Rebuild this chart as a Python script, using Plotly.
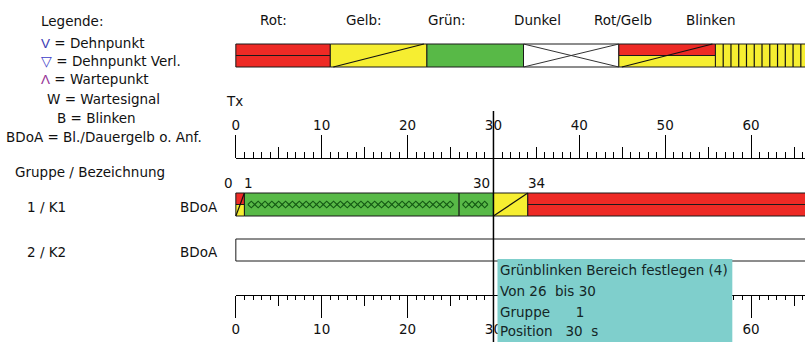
import numpy as np
import plotly.graph_objects as go

# ------------------------------------------------------------------ data
LEGEND_LABELS = ["Rot:", "Gelb:", "Grün:", "Dunkel", "Rot/Gelb", "Blinken"]
LEGEND_KINDS = ["rot", "gelb", "gruen", "dunkel", "rotgelb", "blinken"]
LEGEND_EDGES = [0, 11.0, 22.25, 33.5, 44.6, 55.85, 67.5]
LEGEND_LABEL_AT = [4.4, 14.95, 24.55, 35.1, 45.1, 55.3]

LEGEND_SYMBOLS = ["V", "▽", "Λ", "", "", ""]
LEGEND_SYMBOL_COLORS = ["#3C3CB4", "#3C3CC8", "#963296", "", "", ""]
LEGEND_ENTRIES = ["= Dehnpunkt", "= Dehnpunkt Verl.", "= Wartepunkt",
                  "W = Wartesignal", "B = Blinken", "BDoA = Bl./Dauergelb o. Anf."]

ROW_NAMES = ["1 / K1", "2 / K2"]
ROW_TYPES = ["BDoA", "BDoA"]

K1_START = [0, 1, 26, 30, 34]
K1_END = [1, 26, 30, 34, 67.5]
K1_KIND = ["rotgelb", "gruenblink", "gruenblink", "gelb", "rot"]
K1_MARKS = [0, 1, 30, 34]
K1_MARK_SIDE = ["right", "left", "right", "left"]

K2_START = [0]
K2_END = [67.5]
K2_KIND = ["leer"]

RULER_MAJOR = [0, 10, 20, 30, 40, 50, 60]
RULER_MID = [5, 15, 25, 35, 45, 55, 65]
RULER_MINOR_STEP = 1

CURSOR_T = 30
TOOLTIP_LINES = ["Grünblinken Bereich festlegen (4)",
                 "Von 26\u00a0 bis 30",
                 "Gruppe\u00a0\u00a0\u00a0\u00a0\u00a0 1",
                 "Position\u00a0\u00a0 30\u00a0 s"]

# ------------------------------------------------------------------ layout constants
W, H = 805, 342
T0_PX = 233.0
PX_PER_S = 8.63
X_MIN = -T0_PX / PX_PER_S
X_MAX = (W - T0_PX) / PX_PER_S

RED = "#EE2A25"
YELLOW = "#F6EE31"
GREEN = "#58B947"
TEAL = "#7FCFCC"
FONT = "DejaVu Sans"
FS = 13.5
TXT = "#111111"

LEG_BAND = (44, 67)
ROW_BANDS = [(193, 216), (239, 261)]

shapes = []
black_x, black_y = [], []
grey_x, grey_y = [], []
zig_x, zig_y = [], []


def rect(x0, x1, y0, y1, fill):
    shapes.append(dict(type="rect", xref="x", yref="y", x0=x0, x1=x1, y0=y0, y1=y1,
                       fillcolor=fill, line=dict(color="#1a1a1a", width=1), layer="below"))


def seg(xs, ys, x0, y0, x1, y1):
    xs += [x0, x1, None]
    ys += [y0, y1, None]


def draw(kind, x0, x1, y0, y1, inset=0.0):
    ym = (y0 + y1) / 2
    if kind == "rot":
        rect(x0, x1, y0, ym, RED)
        rect(x0, x1, ym, y1, RED)
    elif kind == "gelb":
        rect(x0, x1, y0, y1, YELLOW)
        seg(black_x, black_y, x0 + inset, y1, x1 - inset, y0)
    elif kind == "gruen":
        rect(x0, x1, y0, y1, GREEN)
    elif kind == "dunkel":
        rect(x0, x1, y0, y1, "white")
        seg(grey_x, grey_y, x0, y0, x1, y1)
        seg(grey_x, grey_y, x0, y1, x1, y0)
    elif kind == "rotgelb":
        rect(x0, x1, y0, ym, RED)
        rect(x0, x1, ym, y1, YELLOW)
        seg(black_x, black_y, x0 + inset, y1, x1 - inset, y0)
    elif kind == "blinken":
        rect(x0, x1, y0, y1, YELLOW)
        for t in np.arange(x0 + 0.904, x1, 0.904):
            seg(black_x, black_y, t, y0, t, y1)
    elif kind == "gruenblink":
        rect(x0, x1, y0, y1, GREEN)
        s, e = x0 + 0.4, x1 - 0.65
        n = max(1, int(round((e - s) / 0.8)))
        half = (e - s) / n
        amp = 3.3
        for sign in (1, -1):
            for k in range(n):
                a = s + k * half
                zig_x.extend([a, a + half / 2])
                zig_y.extend([ym, ym + sign * amp * (1 if k % 2 == 0 else -1)])
            zig_x.extend([e, None])
            zig_y.extend([ym, None])
    elif kind == "leer":
        rect(x0, x1, y0, y1, "white")


# legend bar
for k, kind in enumerate(LEGEND_KINDS):
    draw(kind, LEGEND_EDGES[k], LEGEND_EDGES[k + 1], *LEG_BAND, inset=0.35)

# signal rows
for s, e, kind in zip(K1_START, K1_END, K1_KIND):
    draw(kind, s, e, *ROW_BANDS[0])
for s, e, kind in zip(K2_START, K2_END, K2_KIND):
    draw(kind, s, e, *ROW_BANDS[1])

# cursor + tooltip (above everything)
shapes.append(dict(type="line", xref="x", yref="y", x0=CURSOR_T, x1=CURSOR_T, y0=111, y1=H + 5,
                   line=dict(color="black", width=1.5), layer="above"))
tip_x0 = CURSOR_T + 0.47
tip_x1 = tip_x0 + 236 / PX_PER_S
shapes.append(dict(type="rect", xref="x", yref="y", x0=tip_x0, x1=tip_x1, y0=259, y1=H + 10,
                   fillcolor=TEAL, line=dict(width=0), layer="above"))

fig = go.Figure()
fig.add_trace(go.Scatter(x=zig_x, y=zig_y, mode="lines", line=dict(color="#155A15", width=1.1),
                         hoverinfo="skip", showlegend=False))
fig.add_trace(go.Scatter(x=grey_x, y=grey_y, mode="lines", line=dict(color="#333333", width=1),
                         hoverinfo="skip", showlegend=False))
fig.add_trace(go.Scatter(x=black_x, y=black_y, mode="lines", line=dict(color="#111111", width=1.2),
                         hoverinfo="skip", showlegend=False))
for ax in ["x2", "x3", "x4", "x5"]:
    fig.add_trace(go.Scatter(x=[1], y=[-100], xaxis=ax, yaxis="y", mode="markers",
                             marker=dict(size=1, opacity=0), hoverinfo="skip", showlegend=False))

ann = []


def text(t, x, y, xref="paper", anchor="left", size=FS, color=TXT, xshift=0):
    ann.append(dict(text=t, x=x, y=y, xref=xref, yref="y", xanchor=anchor, yanchor="middle",
                    showarrow=False, xshift=xshift, font=dict(family=FONT, size=size, color=color)))


# left legend
text("Legende:", 35 / W, 21)
leg_x = [35, 35, 35, 41, 51, 0]
leg_y = [43, 61, 79, 99, 118, 137]
for sym, col, entry, lx, ly in zip(LEGEND_SYMBOLS, LEGEND_SYMBOL_COLORS, LEGEND_ENTRIES, leg_x, leg_y):
    t = (f"<span style='color:{col};font-family:Liberation Sans'>{sym}</span> " + entry) if sym else entry
    text(t, lx / W, ly)

# legend headers
for lab, at in zip(LEGEND_LABELS, LEGEND_LABEL_AT):
    text(lab, at, 20, xref="x", anchor="center")

text("Tx", 221 / W, 101)
text("Gruppe / Bezeichnung", 9 / W, 172)
for name, typ, (y0, y1) in zip(ROW_NAMES, ROW_TYPES, ROW_BANDS):
    text(name, 21 / W, (y0 + y1) / 2 + 2)
    text(typ, 175 / W, (y0 + y1) / 2 + 2)

for m, side in zip(K1_MARKS, K1_MARK_SIDE):
    text(str(m), m, 183, xref="x", anchor=side, xshift=(-1 if side == "right" else -2))

for i, line in enumerate(TOOLTIP_LINES):
    text(line, tip_x0, [270, 291, 312, 331][i], xref="x", color="#142626", xshift=1)

common = dict(range=[0, X_MAX], domain=[T0_PX / W, 1], anchor="free", showgrid=False,
              zeroline=False, fixedrange=True, tickfont=dict(family=FONT, size=FS, color=TXT),
              tickcolor="black", tickwidth=1, ticks="outside")
top_pos = 1 - 158 / H
bot_pos = 1 - 295 / H

fig.update_layout(
    width=W, height=H, margin=dict(l=0, r=0, t=0, b=0),
    paper_bgcolor="white", plot_bgcolor="rgba(0,0,0,0)",
    showlegend=False, hovermode=False,
    xaxis=dict(range=[X_MIN, X_MAX], domain=[0, 1], visible=False, fixedrange=True),
    yaxis=dict(range=[H, 0], domain=[0, 1], visible=False, fixedrange=True),
    xaxis2=dict(common, side="top", position=top_pos, showline=True, linecolor="black", linewidth=1,
                tickmode="array", tickvals=RULER_MAJOR, ticktext=[str(v) for v in RULER_MAJOR],
                ticklen=23,
                minor=dict(ticks="outside", tickmode="linear", tick0=0, dtick=RULER_MINOR_STEP,
                           ticklen=6, tickcolor="black", tickwidth=1, showgrid=False)),
    xaxis3=dict(common, side="top", position=top_pos, showline=False, tickmode="array",
                tickvals=RULER_MID, ticklen=11, showticklabels=False),
    xaxis4=dict(common, side="bottom", position=bot_pos, showline=True, linecolor="black", linewidth=1,
                tickmode="array", tickvals=RULER_MAJOR, ticktext=[str(v) for v in RULER_MAJOR],
                ticklen=22,
                minor=dict(ticks="outside", tickmode="linear", tick0=0, dtick=RULER_MINOR_STEP,
                           ticklen=4, tickcolor="black", tickwidth=1, showgrid=False)),
    xaxis5=dict(common, side="bottom", position=bot_pos, showline=False, tickmode="array",
                tickvals=RULER_MID, ticklen=10, showticklabels=False),
    shapes=shapes,
    annotations=ann,
)

fig.write_html("out.html", config={"displayModeBar": False, "staticPlot": True},
               post_script="document.body.style.margin='0px';")
